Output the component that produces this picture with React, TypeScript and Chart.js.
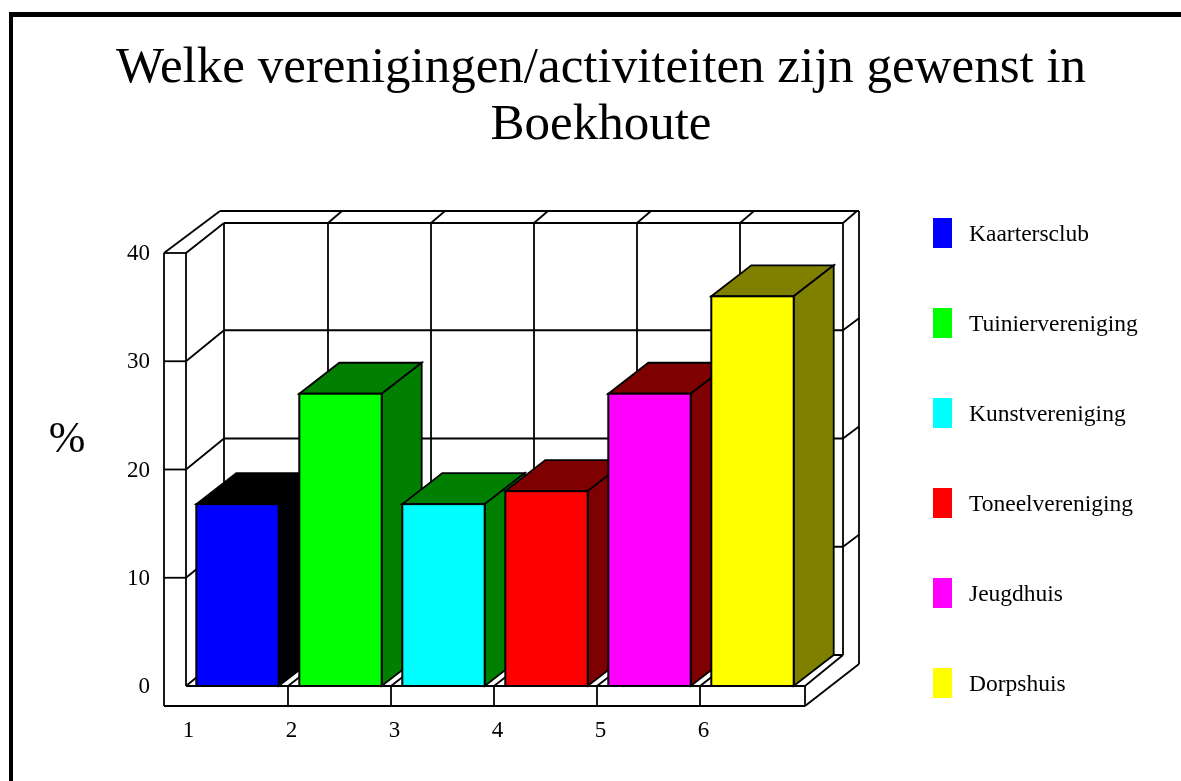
import React, { useEffect, useRef } from "react";
import { Chart, registerables } from "chart.js";

Chart.register(...registerables);

const titleLines = ["Welke verenigingen/activiteiten zijn gewenst in", "Boekhoute"];
const categories = ["1", "2", "3", "4", "5", "6"];
const values = [16.8, 27, 16.8, 18, 27, 36];
const frontColors = ["#0000ff", "#00ff00", "#00ffff", "#ff0000", "#ff00ff", "#ffff00"];
const depthColors = ["#000000", "#007f00", "#007f00", "#7f0000", "#7f0000", "#7f7f00"];
const legendNames = ["Kaartersclub", "Tuiniervereniging", "Kunstvereniging", "Toneelvereniging", "Jeugdhuis", "Dorpshuis"];
const yTicks = [0, 10, 20, 30, 40];
const yAxisLabel = "%";

const SERIF = '"Liberation Serif", "Times New Roman", serif';
const BAR_DX = 40;
const BAR_DY = 31;
const WALL_DX = 38;
const WALL_DY = 31;
const OUTER_DX = 56;
const OUTER_DY = 42;
const STRIP_LEFT = 22;
const STRIP_BOTTOM = 20;

const line = (ctx: CanvasRenderingContext2D, x1: number, y1: number, x2: number, y2: number) => {
  ctx.beginPath();
  ctx.moveTo(x1, y1);
  ctx.lineTo(x2, y2);
  ctx.stroke();
};

const poly = (ctx: CanvasRenderingContext2D, pts: number[][], fill: string) => {
  ctx.beginPath();
  pts.forEach(([x, y], i) => (i ? ctx.lineTo(x, y) : ctx.moveTo(x, y)));
  ctx.closePath();
  ctx.fillStyle = fill;
  ctx.fill();
  ctx.stroke();
};

const box3d = {
  id: "box3d",
  beforeDatasetsDraw(chart: any) {
    const { ctx, chartArea: a, scales } = chart;
    const xs = scales.x;
    const ys = scales.y;
    ctx.save();
    ctx.strokeStyle = "#000";
    ctx.lineWidth = 1.8;
    const L = a.left, R = a.right + 1, T = a.top, B = a.bottom;
    // outer case
    line(ctx, L - STRIP_LEFT, T, L, T);
    line(ctx, L - STRIP_LEFT, T, L - STRIP_LEFT, B + STRIP_BOTTOM);
    line(ctx, L, T, L, B);
    line(ctx, L - STRIP_LEFT, B + STRIP_BOTTOM, R, B + STRIP_BOTTOM);
    line(ctx, L, B, R, B);
    line(ctx, R, B, R, B + STRIP_BOTTOM);
    line(ctx, L - STRIP_LEFT, T, L - STRIP_LEFT + OUTER_DX, T - OUTER_DY);
    line(ctx, L - STRIP_LEFT + OUTER_DX, T - OUTER_DY, R + OUTER_DX - 2, T - OUTER_DY);
    line(ctx, R + OUTER_DX - 2, T - OUTER_DY, R + OUTER_DX - 2, B + STRIP_BOTTOM - OUTER_DY);
    line(ctx, R, B + STRIP_BOTTOM, R + OUTER_DX - 2, B + STRIP_BOTTOM - OUTER_DY);
    // back wall
    const wl = L + WALL_DX, wr = R + WALL_DX, wt = T - WALL_DY + 1, wb = B - WALL_DY;
    line(ctx, wl, wt, wr, wt);
    line(ctx, wl, wt, wl, wb);
    line(ctx, wr, wt, wr, wb);
    line(ctx, wl, wb, wr, wb);
    line(ctx, L, T, wl, wt);
    line(ctx, L, B, wl, wb);
    line(ctx, R, B, wr, wb);
    line(ctx, wr, wt, wr + 14, wt - 12);
    // horizontal gridlines
    yTicks.slice(1, -1).forEach((v) => {
      const y = ys.getPixelForValue(v);
      line(ctx, L - STRIP_LEFT, y, L, y);
      line(ctx, L, y, wl, y - WALL_DY);
      line(ctx, wl, y - WALL_DY, wr, y - WALL_DY);
      line(ctx, wr, y - WALL_DY, wr + 16, y - WALL_DY - 12);
    });
    // vertical gridlines and floor lines
    for (let i = 1; i < categories.length; i++) {
      const x = (xs.getPixelForValue(i - 1) + xs.getPixelForValue(i)) / 2 - 1;
      line(ctx, x + WALL_DX + 2, wt, x + WALL_DX + 2, wb);
      line(ctx, x + WALL_DX + 2, wt, x + WALL_DX + 16, wt - 12);
      line(ctx, x, B, x + WALL_DX + 2, wb);
      line(ctx, x, B, x, B + STRIP_BOTTOM);
    }
    // bar depth faces
    const bars = chart.getDatasetMeta(0).data;
    ctx.lineWidth = 1.8;
    bars.forEach((bar: any, i: number) => {
      const left = bar.x - bar.width / 2;
      const right = bar.x + bar.width / 2;
      const top = bar.y;
      const base = bar.base;
      poly(ctx, [[left, top], [left + BAR_DX, top - BAR_DY], [right + BAR_DX, top - BAR_DY], [right, top]], depthColors[i]);
      poly(ctx, [[right, top], [right + BAR_DX, top - BAR_DY], [right + BAR_DX, base - BAR_DY], [right, base]], depthColors[i]);
    });
    ctx.restore();
  },
  afterDatasetsDraw(chart: any) {
    const { ctx } = chart;
    ctx.save();
    ctx.strokeStyle = "#000";
    ctx.lineWidth = 2;
    chart.getDatasetMeta(0).data.forEach((bar: any) => {
      ctx.strokeRect(bar.x - bar.width / 2, bar.y, bar.width, bar.base - bar.y);
    });
    ctx.restore();
  },
  afterDraw(chart: any) {
    const { ctx, scales } = chart;
    ctx.save();
    ctx.fillStyle = "#000";
    // axis unit
    ctx.font = `44px ${SERIF}`;
    ctx.textAlign = "center";
    ctx.textBaseline = "middle";
    ctx.fillText(yAxisLabel, 67, scales.y.getPixelForValue(22.7));
    // legend
    ctx.textAlign = "left";
    ctx.font = `23.5px ${SERIF}`;
    legendNames.forEach((name, i) => {
      const y = 218 + i * 90;
      ctx.fillStyle = frontColors[i];
      ctx.fillRect(933, y, 19, 30);
      ctx.fillStyle = "#000";
      ctx.fillText(name, 969, y + 17);
    });
    ctx.restore();
  },
};

export default function App() {
  const ref = useRef<HTMLCanvasElement>(null);
  useEffect(() => {
    const chart = new Chart(ref.current!, {
      type: "bar",
      data: {
        labels: categories,
        datasets: [
          {
            data: values,
            backgroundColor: frontColors,
            borderWidth: 0,
            barPercentage: 0.8,
            categoryPercentage: 1,
          },
        ],
      },
      options: {
        responsive: false,
        animation: false,
        layout: { padding: 0 },
        plugins: {
          legend: { display: false },
          tooltip: { enabled: false },
          title: {
            display: true,
            text: titleLines,
            color: "#000",
            font: { family: SERIF, size: 51, weight: "normal", lineHeight: 1.1 },
            padding: { top: 41, bottom: 99.8 },
            fullSize: true,
          },
        },
        scales: {
          x: {
            grid: { display: false, drawTicks: false },
            border: { display: false },
            ticks: { color: "#000", font: { family: SERIF, size: 23 }, padding: 31, labelOffset: -49, maxRotation: 0 },
            afterFit: (s: any) => { s.height = 95; },
          },
          y: {
            min: 0,
            max: 40,
            grid: { display: false, drawTicks: false },
            border: { display: false },
            ticks: { color: "#000", font: { family: SERIF, size: 23 }, padding: 36, stepSize: 10, labelOffset: 1 },
            afterFit: (s: any) => { s.width = 186; },
          },
          spacer: {
            position: "right",
            grid: { display: false, drawTicks: false },
            border: { display: false },
            ticks: { display: false },
            afterFit: (s: any) => { s.width = 398; },
          },
        },
      },
      plugins: [box3d],
    } as any);
    return () => chart.destroy();
  }, []);
  return (
    <div style={{ position: "fixed", left: 0, top: 0, width: 1181, height: 781, overflow: "hidden", background: "#fff" }}>
      <canvas ref={ref} width={1202} height={781} style={{ position: "absolute", left: 0, top: 0, width: 1202, height: 781 }} />
      <div style={{ position: "absolute", left: 9, top: 12, right: 0, bottom: 0, borderLeft: "4px solid #000", borderTop: "5px solid #000", pointerEvents: "none" }} />
    </div>
  );
}
